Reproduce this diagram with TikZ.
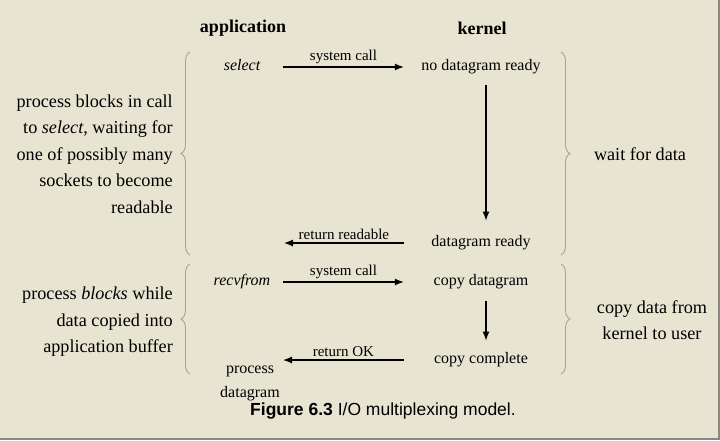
\documentclass[tikz,border=0pt]{standalone}
\usepackage{fontspec}
\setmainfont{Liberation Serif}
\newfontfamily\capfont{Liberation Sans}
\usetikzlibrary{arrows.meta,positioning,calc,decorations.pathreplacing}
\definecolor{paper}{RGB}{231,228,210}
\definecolor{edge}{RGB}{138,137,127}
\definecolor{bracegray}{RGB}{165,163,150}

\begin{document}
\begin{tikzpicture}[x=1pt,y=-1pt,
  box/.style={inner sep=0pt,text height=11pt,text depth=3.5pt,font=\fontsize{16}{19}\selectfont},
  appbox/.style={box,minimum width=82pt},
  kbox/.style={box,minimum width=154pt},
  side/.style={inner sep=0pt,font=\fontsize{18.2}{26.5}\selectfont},
  lbl/.style={inner sep=0pt,font=\fontsize{15}{18}\selectfont,above=3pt},
  arr/.style={line width=1.2pt,-{Latex[length=9pt,width=7pt]}},
  brc/.style={draw=bracegray,line width=0.9pt,decorate,decoration={brace,amplitude=9pt}}]
\useasboundingbox (0,0) rectangle (720,440);
\fill[paper] (0,0) rectangle (720,440);
\draw[edge,line width=2pt] (719,0) -- (719,439) -- (0,439);

% headings
\node[font=\fontsize{18}{20}\selectfont\bfseries] (app) at (243,28) {application};
\node[font=\fontsize{18}{20}\selectfont\bfseries] (kern) at (482,28) {kernel};

% wait for data
\node[appbox] (sel) at (242,67) {\itshape select};
\node[kbox] (nodata) at (481,67) {no datagram ready};
\node[kbox] (dgready) at (481,243) {datagram ready};
\coordinate (retread) at (284,243);
\draw[arr] (sel.east) -- node[lbl] (sc1) {system call} (nodata.west);
\draw[arr,shorten <=11pt,shorten >=15pt] ([xshift=5pt]nodata.south) -- ([xshift=5pt]dgready.north);
\draw[arr] (dgready.west) -- node[lbl] (rr) {return readable} (retread);

% copy data
\node[appbox] (recv) at (242,282) {\itshape recvfrom};
\node[kbox] (copydg) at (481,282) {copy datagram};
\node[kbox] (copydone) at (481,360) {copy complete};
\node[inner sep=0pt,align=center,font=\fontsize{16}{24}\selectfont] (procdg) at (250,383) {process\\datagram};
\coordinate (retok) at (283,360);
\draw[arr] (recv.east) -- node[lbl] (sc2) {system call} (copydg.west);
\draw[arr,shorten <=12pt,shorten >=12pt] ([xshift=5pt]copydg.south) -- ([xshift=5pt]copydone.north);
\draw[arr] (copydone.west) -- node[lbl] (rok) {return OK} (retok);

% braces
\foreach \xa/\ya/\xb/\yb in {190/255/190/52, 190/374/190/264, 561/52/561/255, 561/264/561/374}
  \draw[brc] (\xa,\ya) -- (\xb,\yb);

% side texts
\node[side,align=right,anchor=east] (waitapp) at (173,154) {process blocks in call\\to \textit{select}, waiting for\\one of possibly many\\sockets to become\\readable};
\node[side,align=right,anchor=east] (copyapp) at (173,322) {process \textit{blocks} while\\data copied into\\application buffer};
\node[side] (waitk) at (640,154) {wait for data};
\node[side,align=center] (copyk) at (652,320) {copy data from\\kernel to user};

% caption
\node[font=\capfont\fontsize{17.5}{20}\selectfont] (cap) at (383,411) {\textbf{Figure 6.3} I/O multiplexing model.};
\end{tikzpicture}
\end{document}
